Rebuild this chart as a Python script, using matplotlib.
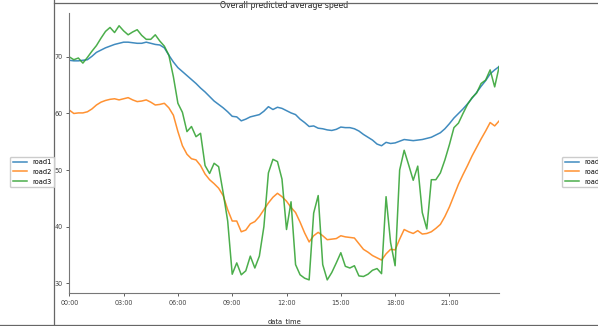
import matplotlib
matplotlib.use("Agg")
import matplotlib.pyplot as plt
from matplotlib.lines import Line2D
import numpy as np

# ---- data (15-minute slots, 00:00 .. 23:45) ----
road1 = [69.4, 69.3, 69.3, 69.4, 69.5, 70.1, 70.8, 71.2, 71.6, 71.9,
         72.2, 72.4, 72.6, 72.6, 72.5, 72.4, 72.4, 72.6, 72.4, 72.2,
         72.1, 71.6, 70.3, 69.1, 68.1, 67.4, 66.7, 66.0, 65.3, 64.5,
         63.8, 63.0, 62.2, 61.6, 61.0, 60.3, 59.5, 59.4, 58.7, 59.0,
         59.4, 59.6, 59.8, 60.4, 61.2, 60.7, 61.1, 60.9, 60.5, 60.1,
         59.8, 59.0, 58.4, 57.7, 57.8, 57.4, 57.3, 57.1, 57.0, 57.2,
         57.6, 57.5, 57.5, 57.3, 56.9, 56.3, 55.8, 55.3, 54.6, 54.3,
         54.9, 54.7, 54.8, 55.1, 55.4, 55.3, 55.2, 55.3, 55.4, 55.6,
         55.8, 56.2, 56.6, 57.3, 58.2, 59.2, 60.0, 60.8, 61.7, 62.7,
         63.7, 64.8, 65.8, 67.0, 67.7, 68.3]
road2 = [60.6, 60.0, 60.1, 60.1, 60.3, 60.8, 61.5, 62.0, 62.3, 62.5,
         62.6, 62.4, 62.6, 62.8, 62.4, 62.1, 62.2, 62.4, 62.0, 61.5,
         61.6, 61.8, 61.0, 59.7, 56.8, 54.3, 52.8, 52.0, 51.8, 50.8,
         49.3, 48.3, 47.6, 46.8, 45.5, 43.0, 41.0, 41.0, 39.1, 39.4,
         40.5, 40.9, 41.8, 43.0, 44.2, 45.2, 45.9, 45.3, 44.5, 43.4,
         42.5, 40.8, 38.9, 37.3, 38.4, 39.0, 38.4, 37.7, 37.8, 37.9,
         38.4, 38.2, 38.1, 38.0, 37.0, 36.0, 35.5, 34.9, 34.5, 34.1,
         35.2, 36.0, 35.9, 37.8, 39.5, 39.1, 38.8, 39.3, 38.7, 38.8,
         39.1, 39.7, 40.4, 41.8, 43.5, 45.5, 47.5, 49.2, 50.8, 52.5,
         54.0, 55.5, 56.9, 58.4, 57.8, 58.7]
road3 = [70.0, 69.5, 69.8, 68.9, 69.9, 71.0, 72.0, 73.3, 74.5, 75.2,
         74.3, 75.5, 74.6, 73.9, 74.4, 74.8, 73.8, 73.1, 73.1, 73.9,
         72.8, 71.9, 70.3, 66.5, 61.8, 60.2, 56.8, 57.7, 55.9, 56.5,
         50.8, 49.4, 51.2, 50.6, 46.0, 41.0, 31.6, 33.6, 31.5, 32.2,
         34.8, 32.7, 34.8, 40.0, 49.5, 51.9, 51.5, 48.4, 39.5, 44.4,
         33.3, 31.5, 30.9, 30.6, 42.4, 45.5, 33.3, 30.6, 31.9, 33.6,
         35.4, 33.0, 32.7, 33.1, 31.3, 31.2, 31.6, 32.3, 32.6, 31.7,
         45.3, 37.2, 33.1, 50.0, 53.5, 50.9, 48.2, 50.7, 42.5, 39.6,
         48.3, 48.3, 49.5, 51.8, 54.5, 57.5, 58.3, 60.0, 61.6, 62.8,
         63.6, 65.3, 65.9, 67.7, 64.7, 68.3]
series_names = ["road1", "road2", "road3"]
tick_labels = ["00:00", "03:00", "06:00", "09:00", "12:00", "15:00", "18:00", "21:00"]
y_ticks = [30, 40, 50, 60, 70]

W, H = 598, 326
fig = plt.figure(figsize=(W / 100, H / 100), dpi=100)
ax = fig.add_axes([69.3 / W, 1 - 293.3 / H, (499.2 - 69.3) / W, (293.3 - 13.3) / H])

slots = np.arange(len(road1))
colors = ["#1f77b4", "#ff7f0e", "#2ca02c"]
lines = []
for vals, name, c in zip([road1, road2, road3], series_names, colors):
    ln, = ax.plot(slots, vals, color=c, lw=1.1, label=name, alpha=0.85)
    lines.append(ln)

ax.set_xlim(slots[0], slots[-1])
ax.set_ylim(28.23, 77.7)
ax.set_xticks(slots[::12][:len(tick_labels)])
ax.set_xticklabels(tick_labels)
ax.set_yticks(y_ticks)
ax.tick_params(labelsize=4.7, length=2.2, width=0.6, pad=2.5, colors="#444444")
for s in ["top", "right"]:
    ax.spines[s].set_visible(False)
for s in ["left", "bottom"]:
    ax.spines[s].set_color("#777777")
    ax.spines[s].set_linewidth(0.8)

ax.set_title("Overall predicted average speed", fontsize=5.6, pad=3.5, color="#222222")
ax.set_xlabel("data_time", fontsize=4.9, labelpad=9, color="#222222")

leg_kw = dict(fontsize=4.8, loc="upper left", borderaxespad=0, handlelength=2.2,
              handletextpad=0.7, labelspacing=0.55, framealpha=1, edgecolor="#cccccc")
fig.legend(lines, series_names, bbox_to_anchor=(10 / W, 1 - 156.5 / H), **leg_kw)
fig.legend(lines, series_names, bbox_to_anchor=(562 / W, 1 - 156.5 / H), **leg_kw)

# notebook frame lines
fc = "#666666"
fig.add_artist(Line2D([54.3 / W, 54.3 / W], [0, 1], transform=fig.transFigure, color=fc, lw=0.9))
fig.add_artist(Line2D([54.3 / W, 1], [1 - 2.7 / H, 1 - 2.7 / H], transform=fig.transFigure, color=fc, lw=0.9))
fig.add_artist(Line2D([0, 1], [1 - 324.5 / H, 1 - 324.5 / H], transform=fig.transFigure, color=fc, lw=0.9))

fig.savefig("out.png", dpi=100)
